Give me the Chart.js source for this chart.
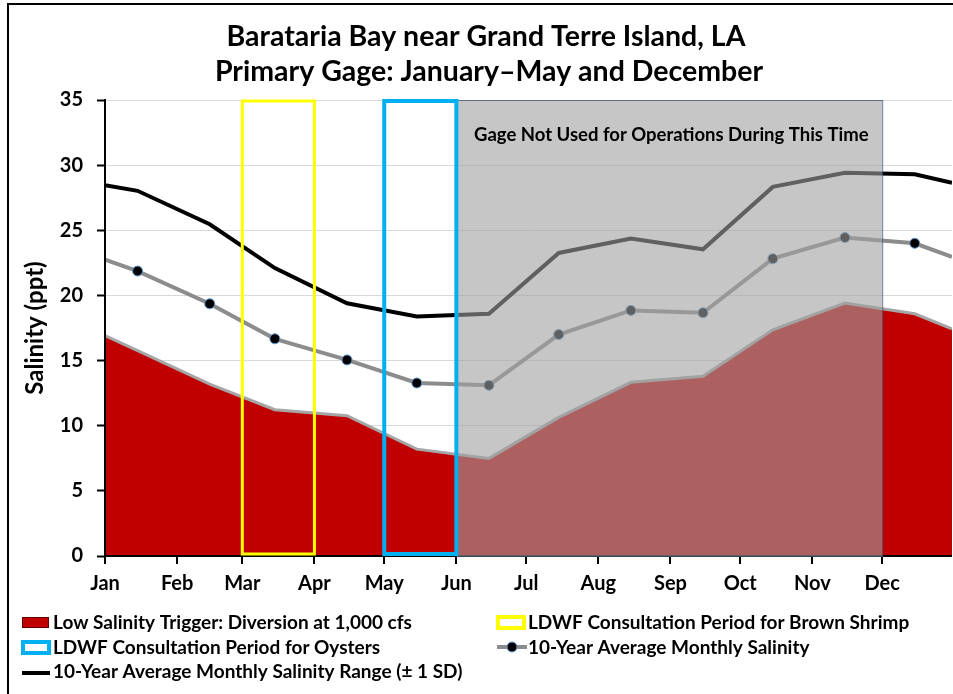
<!DOCTYPE html>
<html>
<head>
<meta charset="utf-8">
<script src="https://cdn.jsdelivr.net/npm/chart.js@4.4.1/dist/chart.umd.min.js"></script>
<style>
  html, body { margin: 0; padding: 0; background: #fff; }
  #wrap { width: 953px; height: 694px; position: relative; }
</style>
</head>
<body>
<div id="wrap"><canvas id="salinity"></canvas></div>
<script>
var monthNames = ['Jan', 'Feb', 'Mar', 'Apr', 'May', 'Jun', 'Jul', 'Aug', 'Sep', 'Oct', 'Nov', 'Dec'];
var monthStarts = [0, 31, 59, 90, 120, 151, 181, 212, 243, 273, 304, 334];
// day of year of each point: Jan 1, the 15th of every month, Dec 31
var pointDays = [0, 14, 45, 73, 104, 134, 165, 195, 226, 257, 287, 318, 348, 364];
var avgSalinity = [22.75, 21.87, 19.36, 16.67, 15.05, 13.28, 13.1, 17.0, 18.85, 18.67, 22.82, 24.44, 24.0, 22.95];
var upperRange = [28.46, 28.03, 25.46, 22.1, 19.4, 18.38, 18.59, 23.26, 24.36, 23.54, 28.33, 29.41, 29.3, 28.64];
var lowTrigger = [16.92, 15.76, 13.2, 11.23, 10.77, 8.2, 7.49, 10.64, 13.33, 13.8, 17.36, 19.41, 18.59, 17.44];
var shrimpPeriod = [59, 90];    // Mar 1 - Apr 1
var oysterPeriod = [120, 151];  // May 1 - Jun 1
var gageOffPeriod = [151, 334]; // Jun 1 - Dec 1
var yRange = [0, 35];

var FONT = 'Lato, "Open Sans", sans-serif';

function toXY(values) {
  return values.map(function(v, i) { return {x: pointDays[i], y: v}; });
}

var dotRadius = pointDays.map(function(d, i) {
  return (i === 0 || i === pointDays.length - 1) ? 0 : 5;
});

var legendItems = [
  {col: 0, row: 0, kind: 'fill', color: '#C00000', text: 'Low Salinity Trigger: Diversion at 1,000 cfs'},
  {col: 1, row: 0, kind: 'box', color: '#FFFF00', text: 'LDWF Consultation Period for Brown Shrimp'},
  {col: 0, row: 1, kind: 'box', color: '#00B0F0', text: 'LDWF Consultation Period for Oysters'},
  {col: 1, row: 1, kind: 'dot', color: '#8C8C8C', text: '10-Year Average Monthly Salinity'},
  {col: 0, row: 2, kind: 'line', color: '#000000', text: '10-Year Average Monthly Salinity Range (\u00b1 1 SD)'}
];

var decorPlugin = {
  id: 'decor',
  beforeDraw: function(chart) {
    var ctx = chart.ctx;
    ctx.save();
    ctx.fillStyle = '#fff';
    ctx.fillRect(0, 0, chart.width, chart.height);
    ctx.strokeStyle = '#000';
    ctx.lineWidth = 2;
    ctx.beginPath();
    ctx.moveTo(8, chart.height);
    ctx.lineTo(8, 4);
    ctx.lineTo(chart.width, 4);
    ctx.stroke();
    // title
    ctx.fillStyle = '#000';
    ctx.font = 'bold 28.5px ' + FONT;
    ctx.textAlign = 'center';
    ctx.textBaseline = 'middle';
    ctx.fillText('Barataria Bay near Grand Terre Island, LA', 486, 37);
    ctx.fillText('Primary Gage: January\u2013May and December', 489, 72);
    ctx.restore();
  },
  afterDatasetsDraw: function(chart) {
    var ctx = chart.ctx;
    var xs = chart.scales.x, ys = chart.scales.y;
    var area = chart.chartArea;
    var top = ys.getPixelForValue(yRange[1]);
    var bottom = ys.getPixelForValue(yRange[0]);
    ctx.save();
    // axis lines on top of the red area
    ctx.strokeStyle = '#000';
    ctx.lineWidth = 2;
    ctx.beginPath();
    ctx.moveTo(area.left, top - 1);
    ctx.lineTo(area.left, bottom);
    ctx.lineTo(area.right, bottom);
    ctx.stroke();
    // gage not used overlay
    var gx0 = xs.getPixelForValue(gageOffPeriod[0]);
    var gx1 = xs.getPixelForValue(gageOffPeriod[1]);
    ctx.fillStyle = 'rgba(160,160,160,0.6)';
    ctx.fillRect(gx0, top, gx1 - gx0, bottom - top);
    ctx.strokeStyle = 'rgba(70,90,120,0.8)';
    ctx.lineWidth = 1;
    ctx.strokeRect(gx0 + 0.5, top + 0.5, gx1 - gx0, bottom - top);
    ctx.fillStyle = '#000';
    ctx.font = 'bold 18.5px ' + FONT;
    ctx.textAlign = 'center';
    ctx.textBaseline = 'middle';
    ctx.fillText('Gage Not Used for Operations During This Time', (gx0 + gx1) / 2 + 2, top + 35);
    // consultation periods
    var sx0 = xs.getPixelForValue(shrimpPeriod[0]);
    var sx1 = xs.getPixelForValue(shrimpPeriod[1]);
    ctx.strokeStyle = '#FFFF00';
    ctx.lineWidth = 3;
    ctx.strokeRect(sx0, top + 1, sx1 - sx0, bottom - top - 3);
    var ox0 = xs.getPixelForValue(oysterPeriod[0]);
    var ox1 = xs.getPixelForValue(oysterPeriod[1]);
    ctx.strokeStyle = '#00B0F0';
    ctx.lineWidth = 4;
    ctx.strokeRect(ox0, top + 1, ox1 - ox0, bottom - top - 3);
    ctx.restore();
  },
  afterDraw: function(chart) {
    var ctx = chart.ctx;
    var colX = [22, 497];
    var rowY = [622, 647, 671];
    ctx.save();
    ctx.font = 'bold 19px ' + FONT;
    ctx.textAlign = 'left';
    ctx.textBaseline = 'middle';
    legendItems.forEach(function(it) {
      var x = colX[it.col], y = rowY[it.row];
      if (it.kind === 'fill') {
        ctx.fillStyle = it.color;
        ctx.fillRect(x, y - 5, 27, 11);
        ctx.strokeStyle = '#600000';
        ctx.lineWidth = 1;
        ctx.strokeRect(x + 0.5, y - 4.5, 26, 10);
      } else if (it.kind === 'box') {
        ctx.fillStyle = '#fff';
        ctx.fillRect(x, y - 6, 28, 12);
        ctx.strokeStyle = it.color;
        ctx.lineWidth = 4;
        ctx.strokeRect(x + 1, y - 5, 26, 11);
      } else if (it.kind === 'line') {
        ctx.strokeStyle = it.color;
        ctx.lineWidth = 4;
        ctx.beginPath();
        ctx.moveTo(x, y + 2);
        ctx.lineTo(x + 28, y + 2);
        ctx.stroke();
      } else {
        ctx.strokeStyle = it.color;
        ctx.lineWidth = 4;
        ctx.beginPath();
        ctx.moveTo(x, y);
        ctx.lineTo(x + 30, y);
        ctx.stroke();
        ctx.fillStyle = '#000';
        ctx.strokeStyle = '#5B9BD5';
        ctx.lineWidth = 1;
        ctx.beginPath();
        ctx.arc(x + 15, y, 5, 0, Math.PI * 2);
        ctx.fill();
        ctx.stroke();
      }
      ctx.fillStyle = '#000';
      ctx.fillText(it.text, x + 31, y + 1);
    });
    ctx.restore();
  }
};

var ctx = document.getElementById('salinity');
var chart = new Chart(ctx, {
  type: 'line',
  data: {
    datasets: [
      {
        label: '10-Year Average Monthly Salinity',
        data: toXY(avgSalinity),
        borderColor: '#8C8C8C',
        borderWidth: 4,
        pointRadius: dotRadius,
        pointBackgroundColor: '#000',
        pointBorderColor: '#5B9BD5',
        pointBorderWidth: 1,
        tension: 0,
        fill: false,
        order: 1
      },
      {
        label: '10-Year Average Monthly Salinity Range (\u00b1 1 SD)',
        data: toXY(upperRange),
        borderColor: '#000',
        borderWidth: 4,
        pointRadius: 0,
        tension: 0,
        fill: false,
        order: 2
      },
      {
        label: 'Low Salinity Trigger: Diversion at 1,000 cfs',
        data: toXY(lowTrigger),
        borderColor: '#A6A6A6',
        borderWidth: 3,
        backgroundColor: '#C00000',
        pointRadius: 0,
        tension: 0,
        fill: 'origin',
        order: 3
      }
    ]
  },
  options: {
    responsive: true,
    maintainAspectRatio: false,
    animation: false,
    layout: {padding: {top: 100, left: 0, right: 1, bottom: 98}},
    plugins: {
      legend: {display: false},
      title: {display: false},
      tooltip: {enabled: false}
    },
    scales: {
      x: {
        type: 'linear',
        min: 0,
        max: 364,
        afterBuildTicks: function(scale) {
          scale.ticks = monthStarts.map(function(d) { return {value: d}; });
        },
        afterFit: function(scale) { scale.height = 40; },
        ticks: {
          autoSkip: false,
          maxRotation: 0,
          color: '#000',
          padding: 8,
          font: {family: FONT, size: 20, weight: 'bold'},
          callback: function(value) {
            var i = monthStarts.indexOf(value);
            return i >= 0 ? monthNames[i] : '';
          }
        },
        grid: {drawOnChartArea: false, drawTicks: true, tickLength: 8, tickColor: '#000', lineWidth: 2},
        border: {display: false}
      },
      y: {
        min: yRange[0],
        max: yRange[1],
        afterFit: function(scale) { scale.width = 105; },
        ticks: {
          stepSize: 5,
          color: '#000',
          padding: 14,
          font: {family: FONT, size: 20, weight: 'bold'}
        },
        grid: {color: '#D9D9D9', lineWidth: 1, tickLength: 8, tickColor: '#000', tickWidth: 2},
        border: {display: false},
        title: {
          display: true,
          text: 'Salinity (ppt)',
          color: '#000',
          padding: {top: 21, bottom: 0},
          font: {family: FONT, size: 24, weight: 'bold'}
        }
      }
    }
  },
  plugins: [decorPlugin]
});
</script>
</body>
</html>
